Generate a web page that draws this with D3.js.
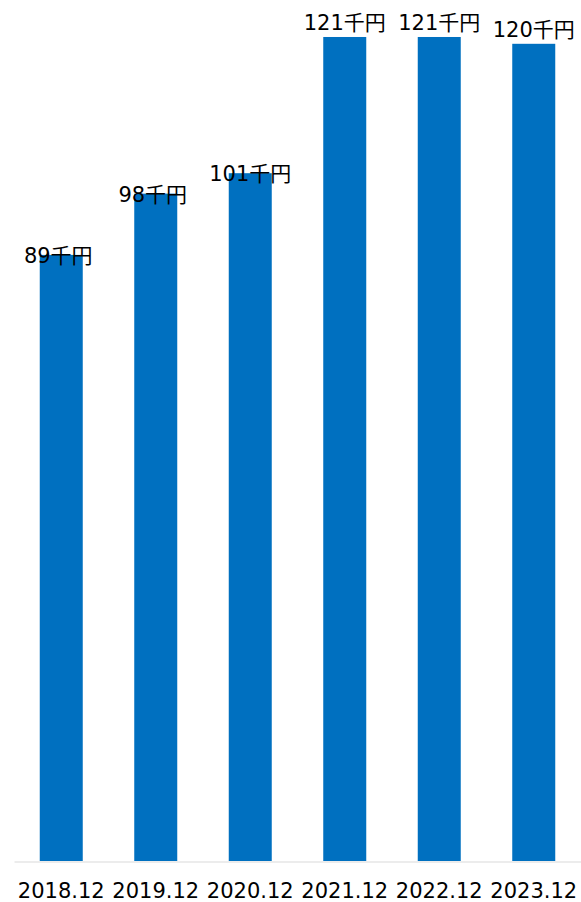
<!DOCTYPE html>
<html>
<head>
<meta charset="utf-8">
<script src="https://cdn.jsdelivr.net/npm/d3@7/dist/d3.min.js"></script>
<style>
  html, body { margin: 0; padding: 0; background: #fff; }
  svg { display: block; }
  text { font-family: "DejaVu Sans", Verdana, "Noto Sans CJK JP", sans-serif; fill: #000; }
</style>
</head>
<body>
<svg id="chart" width="581" height="902"></svg>
<script>
// Year-end values, in thousands of yen
const periods = ["2018.12", "2019.12", "2020.12", "2021.12", "2022.12", "2023.12"];
const values = [89, 98, 101, 121, 121, 120];
const unit = "千円";

const W = 581, H = 902;
const baseY = 861;
const svg = d3.select("#chart");

const x = d3.scaleBand()
  .domain(periods)
  .range([14, W])
  .paddingInner(0.545)
  .paddingOuter(0.2725);

const y = d3.scaleLinear()
  .domain([0, 125])
  .range([baseY, baseY - 6.81 * 125]);

const rows = periods.map((p, i) => ({ period: p, value: values[i], i }));

// Bars
svg.append("g")
  .selectAll("rect")
  .data(rows)
  .join("rect")
  .attr("x", d => x(d.period))
  .attr("y", d => y(d.value))
  .attr("width", x.bandwidth())
  .attr("height", d => y(0) - y(d.value))
  .attr("fill", "#0070C0");

// Category axis (line only, no ticks)
const axis = svg.append("g")
  .attr("transform", `translate(0,${baseY + 0.5})`)
  .call(d3.axisBottom(x).tickSize(0).tickPadding(22));
axis.select(".domain").attr("stroke", "#d9d9d9").attr("stroke-width", 1);
axis.selectAll(".tick text")
  .attr("font-size", 21)
  .attr("font-family", "\"DejaVu Sans\", Verdana, sans-serif")
  .attr("fill", "#000");

// Value labels: the shorter bars carry their label across the bar top
const labelDy = d => (d.i < 3 ? 8 : -7);
svg.append("g")
  .selectAll("text")
  .data(rows)
  .join("text")
  .attr("x", d => x(d.period) + x.bandwidth() / 2 + (d.i < 2 ? -3 : 0))
  .attr("y", d => y(d.value) + labelDy(d))
  .attr("text-anchor", "middle")
  .attr("font-size", 21)
  .text(d => d.value + unit);
</script>
</body>
</html>
